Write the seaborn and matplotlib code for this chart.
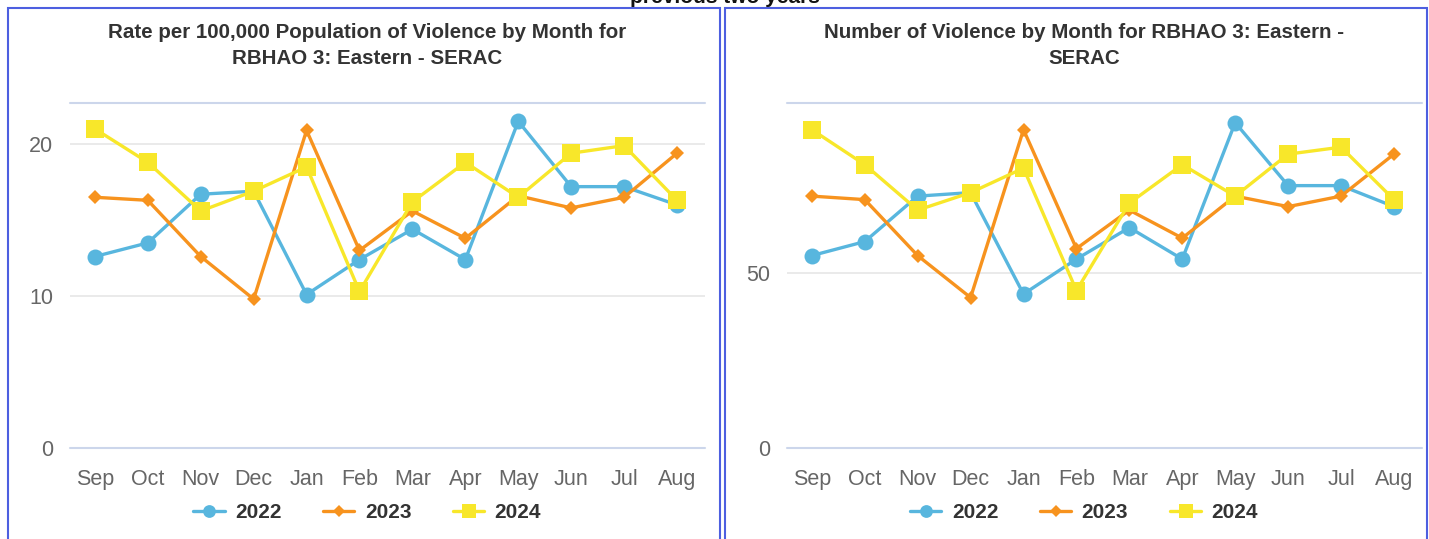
import pandas as pd
import seaborn as sns
import matplotlib
matplotlib.use("Agg")
import matplotlib.pyplot as plt
from matplotlib.patches import Rectangle

# %%
months = ["Sep", "Oct", "Nov", "Dec", "Jan", "Feb", "Mar", "Apr", "May", "Jun", "Jul", "Aug"]
years = ["2022", "2023", "2024"]

rate_2022 = [12.6, 13.5, 16.7, 16.9, 10.1, 12.4, 14.4, 12.4, 21.5, 17.2, 17.2, 16.0]
rate_2023 = [16.5, 16.3, 12.6, 9.8, 20.9, 13.0, 15.6, 13.8, 16.6, 15.8, 16.5, 19.4]
rate_2024 = [21.0, 18.8, 15.6, 16.9, 18.5, 10.3, 16.2, 18.8, 16.5, 19.4, 19.9, 16.3]

count_2022 = [55, 59, 72, 73, 44, 54, 63, 54, 93, 75, 75, 69]
count_2023 = [72, 71, 55, 43, 91, 57, 68, 60, 72, 69, 72, 84]
count_2024 = [91, 81, 68, 73, 80, 45, 70, 81, 72, 84, 86, 71]

titles = [
    "Rate per 100,000 Population of Violence by Month for\nRBHAO 3: Eastern - SERAC",
    "Number of Violence by Month for RBHAO 3: Eastern -\nSERAC",
]

# %%
def long_df(a, b, c):
    df = pd.DataFrame({"month": months, "2022": a, "2023": b, "2024": c})
    return df.melt(id_vars="month", var_name="year", value_name="value")

df_rate = long_df(rate_2022, rate_2023, rate_2024)
df_count = long_df(count_2022, count_2023, count_2024)

colors = {"2022": "#58B6DE", "2023": "#F7931E", "2024": "#F8E72A"}
markers = {"2022": "o", "2023": "D", "2024": "s"}
msizes = {"2022": 11.5, "2023": 7.5, "2024": 12.5}

# %%
sns.set_style("white")
plt.rcParams["font.family"] = ["Liberation Sans", "DejaVu Sans"]

fig = plt.figure(figsize=(14.29, 5.39), dpi=100)
ax1 = fig.add_axes([0.049, 0.1688, 0.4444, 0.640])
ax2 = fig.add_axes([0.5507, 0.1688, 0.4444, 0.640])

panels = [(ax1, df_rate, 22.7, [0, 10, 20]), (ax2, df_count, 98.6, [0, 50])]

for (ax, df, top, ticks), title in zip(panels, titles):
    for yr in years:
        sub = df[df["year"] == yr]
        sns.lineplot(data=sub, x="month", y="value", ax=ax, sort=False,
                     color=colors[yr], marker=markers[yr], markersize=msizes[yr],
                     markeredgewidth=0, linewidth=2.4, label=yr)
    ax.set_ylim(0, top)
    ax.set_xlim(-0.47, 11.53)
    ax.set_yticks(ticks)
    for t in ticks[1:]:
        ax.axhline(t, color="#e6e6e6", linewidth=1.2, zorder=0)
    ax.axhline(0, color="#ccd6eb", linewidth=1.5, zorder=0, clip_on=False)
    ax.axhline(top, color="#ccd6eb", linewidth=1.5, zorder=0, clip_on=False)
    sns.despine(ax=ax, left=True, bottom=True, top=True, right=True)
    ax.set_xlabel("")
    ax.set_ylabel("")
    ax.tick_params(axis="both", length=0, labelsize=15.5, labelcolor="#666666")
    ax.tick_params(axis="x", pad=15)
    ax.tick_params(axis="y", pad=12)
    ax.set_title(title, x=0.468, fontsize=14.8, fontweight="bold", color="#333333",
                 pad=28, linespacing=1.45)
    ax.legend(loc="upper center", bbox_to_anchor=(0.468, -0.105), ncol=3, frameon=False,
              prop={"weight": "bold", "size": 15}, handlelength=1.5, columnspacing=2.0,
              handletextpad=0.5, labelcolor="#333333", markerscale=0.8)

# panel borders
for x0, x1 in [(8, 720), (725, 1427)]:
    fig.add_artist(Rectangle((x0 / 1429, -0.05), (x1 - x0) / 1429, 1.05 - 8 / 539,
                             transform=fig.transFigure, fill=False,
                             edgecolor="#4d5fe0", linewidth=1.5))

fig.text(0.507, 1 - 3 / 539, "previous two years", ha="center", va="baseline",
         fontsize=15, fontweight="bold", color="#111111")

fig.savefig("out.png", dpi=100)
